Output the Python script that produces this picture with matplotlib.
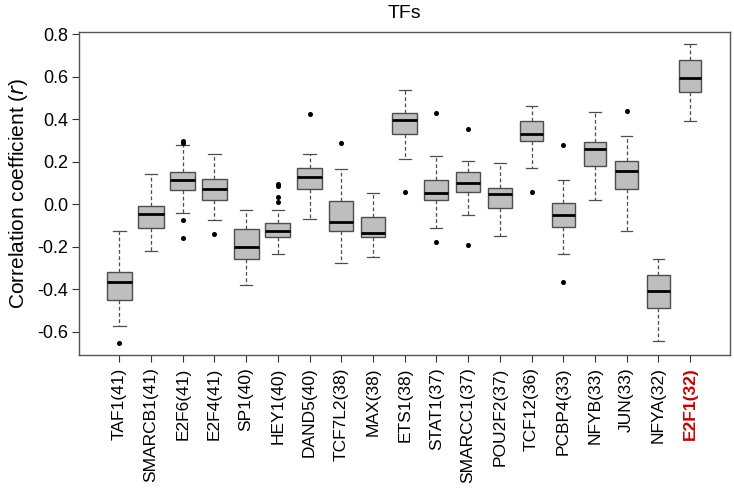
import matplotlib
matplotlib.use('Agg')
import matplotlib.pyplot as plt
import numpy as np

# TF names and number of samples
tfs = ['TAF1', 'SMARCB1', 'E2F6', 'E2F4', 'SP1', 'HEY1', 'DAND5', 'TCF7L2', 'MAX',
       'ETS1', 'STAT1', 'SMARCC1', 'POU2F2', 'TCF12', 'PCBP4', 'NFYB', 'JUN', 'NFYA', 'E2F1']
counts = [41, 41, 41, 41, 40, 40, 40, 38, 38, 38, 37, 37, 37, 36, 33, 33, 33, 32, 32]

# box statistics
whislo = [-0.575, -0.218, -0.042, -0.072, -0.379, -0.234, -0.069, -0.275, -0.249,
          0.211, -0.111, -0.049, -0.150, 0.171, -0.235, 0.019, -0.124, -0.642, 0.393]
q1 = [-0.450, -0.113, 0.067, 0.019, -0.257, -0.155, 0.070, -0.127, -0.155,
      0.328, 0.020, 0.056, -0.017, 0.296, -0.108, 0.180, 0.070, -0.490, 0.527]
med = [-0.368, -0.048, 0.114, 0.073, -0.200, -0.126, 0.130, -0.082, -0.135,
       0.394, 0.053, 0.100, 0.048, 0.330, -0.050, 0.258, 0.156, -0.406, 0.593]
q3 = [-0.319, -0.010, 0.153, 0.120, -0.118, -0.090, 0.169, 0.017, -0.061,
      0.427, 0.113, 0.150, 0.075, 0.391, 0.005, 0.292, 0.205, -0.335, 0.678]
whishi = [-0.126, 0.142, 0.277, 0.236, -0.025, -0.025, 0.238, 0.164, 0.051,
          0.538, 0.228, 0.202, 0.192, 0.463, 0.114, 0.432, 0.319, -0.256, 0.754]
outliers = [[-0.653], [], [0.298, 0.290, -0.074, -0.157], [-0.141], [],
            [0.093, 0.085, 0.033, 0.011], [0.424], [0.289], [],
            [0.056], [0.427, -0.177], [0.354, -0.193], [], [0.056],
            [0.278, -0.368], [], [0.440], [], []]

stats = []
for i in range(len(tfs)):
    stats.append(dict(label=f'{tfs[i]}({counts[i]})', whislo=whislo[i], q1=q1[i],
                      med=med[i], q3=q3[i], whishi=whishi[i], fliers=outliers[i]))

plt.rcParams['font.family'] = ['Liberation Sans', 'DejaVu Sans']

fig = plt.figure(figsize=(7.34, 4.92), dpi=100)
ax = fig.add_axes([0.108, 0.2785, 0.8866, 0.6565])

positions = np.arange(1, len(tfs) + 1)
widths = [0.8 * np.sqrt(n / max(counts)) for n in counts]

edge = '#4d4d4d'
ax.bxp(stats, positions=positions, widths=widths, patch_artist=True,
       boxprops=dict(facecolor='#bebebe', edgecolor=edge, linewidth=1.0),
       medianprops=dict(color='black', linewidth=2.0),
       whiskerprops=dict(color=edge, linestyle=(0, (3, 2)), linewidth=0.9),
       capprops=dict(color=edge, linewidth=0.9),
       capwidths=[w * 0.5 for w in widths],
       flierprops=dict(marker='o', markersize=2.6, markerfacecolor='black',
                       markeredgecolor='black'))

ax.set_xlim(-0.26, 20.26)
ax.set_ylim(-0.709, 0.81)
yt = [-0.6, -0.4, -0.2, 0.0, 0.2, 0.4, 0.6, 0.8]
ax.set_yticks(yt)
ax.set_yticklabels([f'{v:.1f}' for v in yt])
ax.set_xticks(positions)
ax.set_xticklabels([s['label'] for s in stats], rotation=90)
ax.tick_params(axis='both', direction='out', length=5, width=0.8, color='#333333')
ax.tick_params(axis='y', labelsize=13, pad=3)
ax.tick_params(axis='x', labelsize=12.5, pad=4)
for spine in ax.spines.values():
    spine.set_color('#555555')
    spine.set_linewidth(1.0)

lab = ax.get_xticklabels()[-1]
lab.set_color('#cc0000')
lab.set_fontweight('bold')

ax.set_ylabel('Correlation coefficient ($\\it{r}$)', fontsize=15, labelpad=5)
ax.set_title('TFs', fontsize=14, pad=10)

fig.savefig('out.png', dpi=100)
